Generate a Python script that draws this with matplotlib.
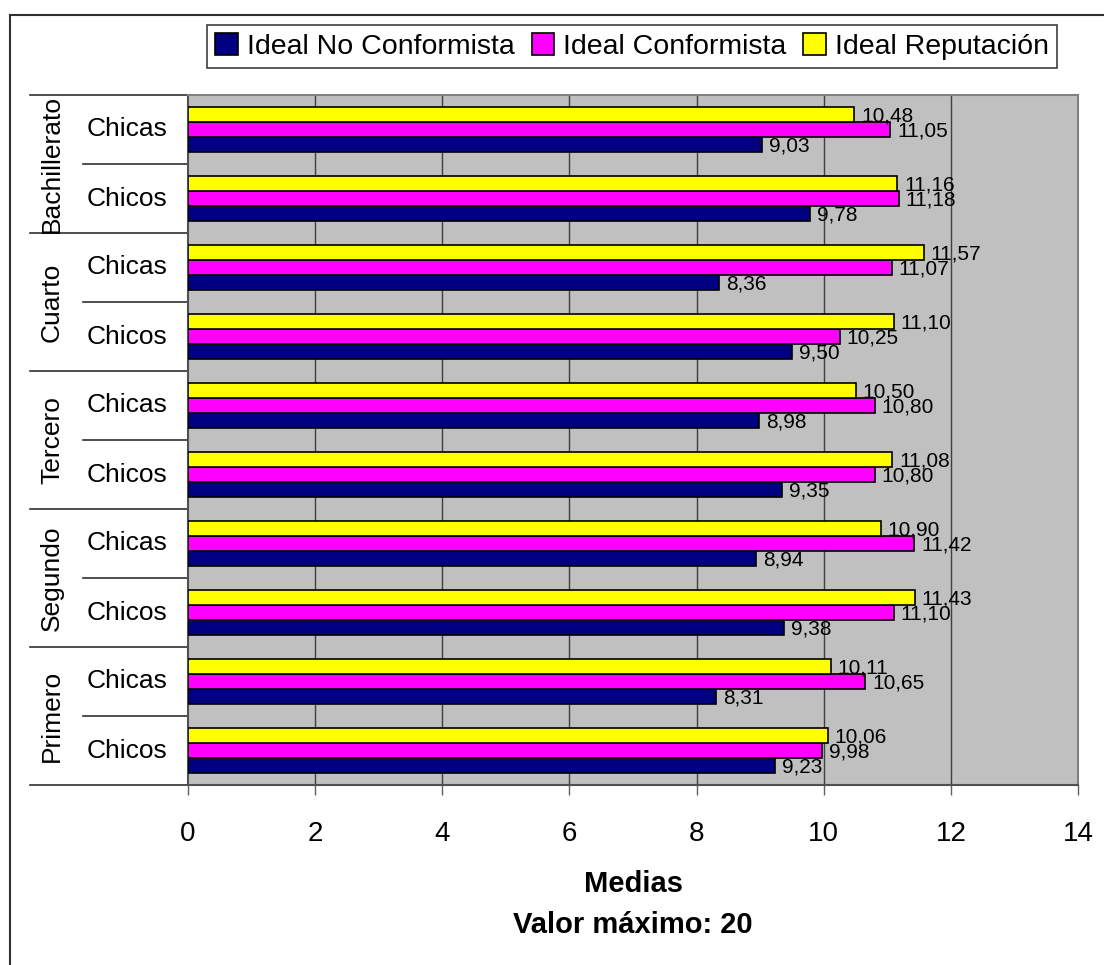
import matplotlib
matplotlib.use("Agg")
import numpy as np
import matplotlib.pyplot as plt
from matplotlib.patches import Patch
from matplotlib.lines import Line2D
from matplotlib import transforms

plt.rcParams["font.family"] = ["Liberation Sans", "DejaVu Sans"]

# Courses (bottom to top) and sex within each course
courses = ["Primero", "Segundo", "Tercero", "Cuarto", "Bachillerato"]
sexes = ["Chicos", "Chicas"]

# Means per row, bottom to top: Primero Chicos, Primero Chicas, ..., Bachillerato Chicas
no_conformista = [9.23, 8.31, 9.38, 8.94, 9.35, 8.98, 9.50, 8.36, 9.78, 9.03]
conformista = [9.98, 10.65, 11.10, 11.42, 10.80, 10.80, 10.25, 11.07, 11.18, 11.05]
reputacion = [10.06, 10.11, 11.43, 10.90, 11.08, 10.50, 11.10, 11.57, 11.16, 10.48]

series = [
    ("Ideal No Conformista", no_conformista, "#000080"),
    ("Ideal Conformista", conformista, "#FF00FF"),
    ("Ideal Reputación", reputacion, "#FFFF00"),
]

W, H = 1104, 965
fig = plt.figure(figsize=(W / 100, H / 100), dpi=100)
ax = fig.add_axes([188 / W, 1 - 785 / H, (1078 - 188) / W, (785 - 95) / H])
ax.set_facecolor("#C0C0C0")

rows = np.arange(len(no_conformista))
bar_h = 0.222
for i, (name, vals, color) in enumerate(series):
    off = (i - 1) * bar_h
    ax.barh(rows + off, vals, height=bar_h, color=color, edgecolor="black",
            linewidth=1.2, zorder=3)
    for y, v in zip(rows + off, vals):
        ax.annotate(f"{v:.2f}".replace(".", ","), (v, y), xytext=(5, -1),
                    textcoords="offset points", va="center", ha="left",
                    fontsize=15, zorder=4)

ax.set_xlim(0, 14)
ax.set_ylim(-0.5, len(rows) - 0.5)
ax.set_xticks(range(0, 15, 2))
ax.set_yticks([])
ax.tick_params(axis="x", direction="out", length=7, width=1, color="#606060",
               labelsize=20, pad=19)
for x in range(2, 14, 2):
    ax.axvline(x, color="#404040", linewidth=1, zorder=1)
for side in ["top", "right"]:
    ax.spines[side].set_color("#808080")
    ax.spines[side].set_linewidth(1.5)
for side in ["left", "bottom"]:
    ax.spines[side].set_color("#505050")
    ax.spines[side].set_linewidth(1.5)

# Two-level category labels on the left
tr = transforms.blended_transform_factory(fig.transFigure, ax.transData)
for r in rows:
    ax.text(127 / W, r, sexes[r % 2], transform=tr, ha="center", va="center",
            fontsize=19)
for g, course in enumerate(courses):
    ax.text(52 / W, 2 * g + 0.5, course, transform=tr, ha="center",
            va="center", rotation=90, fontsize=19)
for g in range(len(courses) + 1):
    y = 2 * g - 0.5
    ax.add_line(Line2D([30 / W, 188 / W], [y, y], transform=tr, color="#303030",
                       linewidth=1.2, clip_on=False))
for g in range(len(courses)):
    y = 2 * g + 0.5
    ax.add_line(Line2D([83 / W, 188 / W], [y, y], transform=tr, color="#303030",
                       linewidth=1.2, clip_on=False))

# Axis title
fig.text(633 / W, 1 - 884 / H, "Medias", ha="center", va="center",
         fontsize=21, fontweight="bold")
fig.text(633 / W, 1 - 925 / H, "Valor máximo: 20", ha="center", va="center",
         fontsize=21, fontweight="bold")

# Legend
handles = [Patch(facecolor=c, edgecolor="black", linewidth=1.2, label=n)
           for n, _, c in series]
leg = fig.legend(handles=handles, loc="center", ncol=3,
                 bbox_to_anchor=(632 / W, 1 - 46.5 / H), fontsize=20.5,
                 frameon=True, fancybox=False, edgecolor="#404040",
                 framealpha=1, handlelength=0.8, handleheight=0.8,
                 handletextpad=0.3, columnspacing=0.6, borderpad=0.3)
leg.get_frame().set_linewidth(1.2)

# Outer chart frame (top and left edges)
fig.add_artist(Line2D([10 / W, 1.0], [1 - 15 / H, 1 - 15 / H],
                      transform=fig.transFigure, color="#303030", linewidth=1.5))
fig.add_artist(Line2D([10 / W, 10 / W], [0, 1 - 15 / H],
                      transform=fig.transFigure, color="#303030", linewidth=1.5))

fig.savefig("out.png", dpi=100)
